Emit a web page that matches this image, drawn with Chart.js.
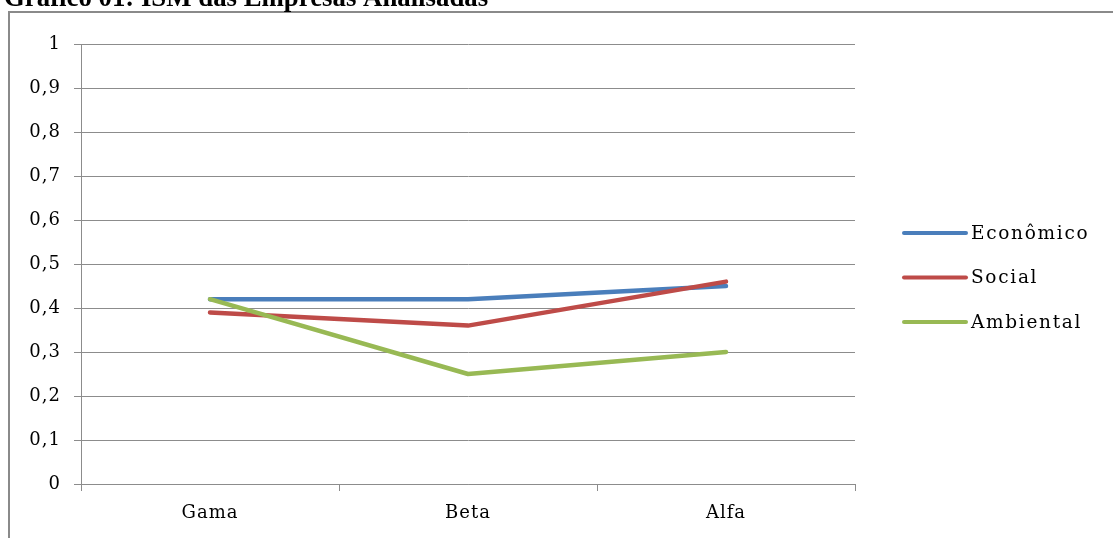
<!DOCTYPE html>
<html>
<head>
<meta charset="utf-8">
<script src="https://cdn.jsdelivr.net/npm/chart.js@4/dist/chart.umd.min.js"></script>
<style>
  html, body { margin: 0; padding: 0; background: #fff; }
  #wrap { position: relative; width: 1113px; height: 538px; overflow: hidden; }
  #frame { position: absolute; left: 8px; top: 11px; width: 1200px; height: 600px;
           border-left: 2px solid #8a8a8a; border-top: 2px solid #8a8a8a; box-sizing: border-box; }
  canvas { position: absolute; left: 0; top: 0; }
</style>
</head>
<body>
<div id="wrap">
  <div id="frame"></div>
  <canvas id="c" width="1113" height="538"></canvas>
</div>
<script>
const titleText = 'Gráfico 01: ISM das Empresas Analisadas';
const categories = ['Gama', 'Beta', 'Alfa'];
const seriesNames = ['Econômico', 'Social', 'Ambiental'];
const economico = [0.42, 0.42, 0.45];
const social = [0.39, 0.36, 0.46];
const ambiental = [0.42, 0.25, 0.30];
const seriesColors = ['#4a7ebb', '#be4b48', '#98b954'];

const gridColor = '#8c8c8c';
const textFont = 'DejaVu Serif';

// Title sits partly above the frame, cropped at the top edge
const titlePlugin = {
  id: 'pageTitle',
  afterDraw(chart) {
    const ctx = chart.ctx;
    ctx.save();
    ctx.letterSpacing = '0px';
    ctx.font = 'bold 26.8px "Liberation Serif"';
    ctx.fillStyle = '#000';
    ctx.textAlign = 'left';
    ctx.textBaseline = 'alphabetic';
    ctx.fillText(titleText, 4, 6);
    ctx.restore();
  }
};

// Legend on the right: thick line sample followed by the series name
const sideLegend = {
  id: 'sideLegend',
  afterDraw(chart) {
    const ctx = chart.ctx;
    ctx.save();
    ctx.letterSpacing = '1.7px';
    ctx.font = '18.5px "' + textFont + '"';
    ctx.textBaseline = 'middle';
    ctx.textAlign = 'left';
    const x0 = 904, x1 = 966, yTop = 233, step = 44.5;
    chart.data.datasets.forEach((ds, i) => {
      const y = yTop + i * step;
      ctx.strokeStyle = ds.borderColor;
      ctx.lineWidth = 4;
      ctx.lineCap = 'round';
      ctx.beginPath();
      ctx.moveTo(x0, y);
      ctx.lineTo(x1, y);
      ctx.stroke();
      ctx.fillStyle = '#000';
      ctx.fillText(ds.label, 971, y + 1);
    });
    ctx.restore();
  }
};

const spacing = {
  id: 'spacing',
  beforeDraw(chart) { chart.ctx.letterSpacing = '1px'; }
};

const datasets = [economico, social, ambiental].map((vals, i) => ({
  label: seriesNames[i],
  data: vals,
  borderColor: seriesColors[i],
  backgroundColor: seriesColors[i],
  borderWidth: 4.5,
  pointRadius: 0,
  tension: 0,
  borderCapStyle: 'round',
  borderJoinStyle: 'round',
  order: 2 - i
}));

new Chart(document.getElementById('c'), {
  type: 'line',
  data: { labels: categories, datasets },
  options: {
    responsive: false,
    animation: false,
    devicePixelRatio: 1,
    layout: { padding: { left: 0, right: 258, top: 44, bottom: 0 } },
    plugins: { legend: { display: false }, tooltip: { enabled: false }, title: { display: false } },
    scales: {
      x: {
        type: 'category',
        offset: true,
        grid: { offset: true, drawOnChartArea: false, color: gridColor, tickLength: 7, lineWidth: 1 },
        border: { display: true, color: gridColor, width: 1 },
        ticks: { color: '#000', padding: 12, font: { family: textFont, size: 18 } },
        afterFit(s) { s.height = 54; }
      },
      y: {
        min: 0, max: 1,
        grid: { color: gridColor, tickLength: 7, lineWidth: 1 },
        border: { display: true, color: gridColor, width: 1 },
        ticks: {
          stepSize: 0.1,
          color: '#000',
          padding: 13,
          font: { family: textFont, size: 18 },
          callback: v => (Math.round(v * 10) / 10).toString().replace('.', ',')
        },
        afterFit(s) { s.width = 81; }
      }
    }
  },
  plugins: [spacing, titlePlugin, sideLegend]
});
</script>
</body>
</html>
